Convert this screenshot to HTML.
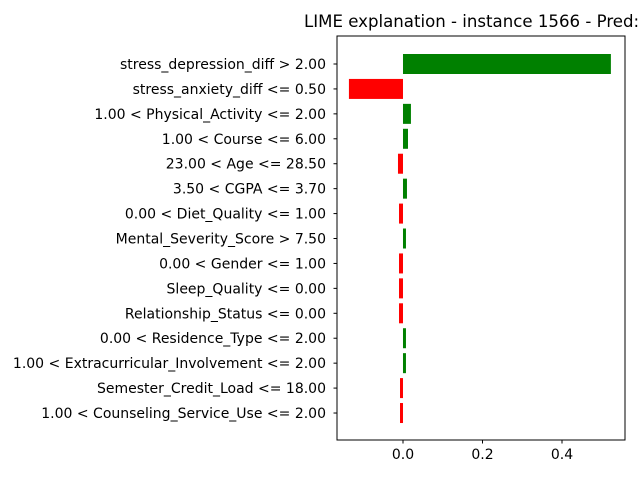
<!DOCTYPE html>
<html><head><meta charset="utf-8"><style>body{margin:0;background:#fff}svg{display:block;font-family:"DejaVu Sans","Liberation Sans",sans-serif}</style></head>
<body>
<svg id="chart" width="640" height="480">
<text x="304" y="27" font-size="16.6" fill="#000">LIME explanation - instance 1566 - Pred: 1</text>
<g id="bars"></g>
<rect x="337" y="36" width="288" height="404" fill="none" stroke="#000" stroke-width="1"/>
<g id="ticks"></g>
</svg>
<script>
const features = ["stress_depression_diff > 2.00","stress_anxiety_diff <= 0.50","1.00 < Physical_Activity <= 2.00","1.00 < Course <= 6.00","23.00 < Age <= 28.50","3.50 < CGPA <= 3.70","0.00 < Diet_Quality <= 1.00","Mental_Severity_Score > 7.50","0.00 < Gender <= 1.00","Sleep_Quality <= 0.00","Relationship_Status <= 0.00","0.00 < Residence_Type <= 2.00","1.00 < Extracurricular_Involvement <= 2.00","Semester_Credit_Load <= 18.00","1.00 < Counseling_Service_Use <= 2.00"];
const weights = [0.523,-0.136,0.020,0.0126,-0.0126,0.010,-0.010,0.0075,-0.010,-0.010,-0.010,0.0075,0.0075,-0.0075,-0.0075];
const xTicks = [0.0,0.2,0.4];
const xTickLabels = ["0.0","0.2","0.4"];
const NS="http://www.w3.org/2000/svg";
const xMin=-0.166,xMax=0.5585,L=337,R=625;
const x=v=>L+(v-xMin)/(xMax-xMin)*(R-L);
const y=i=>64+i*24.93;
const bars=document.getElementById('bars'),ticks=document.getElementById('ticks');
function mk(t,a,p){const e=document.createElementNS(NS,t);for(const k in a)e.setAttribute(k,a[k]);p.appendChild(e);return e;}
weights.forEach((w,i)=>{
  const r=mk('rect',{x:Math.min(x(0),x(w)),y:y(i)-10,width:Math.abs(x(w)-x(0)),height:20,fill:w>0?'green':'red'},bars);
  
  
  const tk=mk('line',{x1:337,x2:333.5,y1:y(i),y2:y(i),stroke:'#000'},ticks);
  
  
  const t=mk('text',{x:326,y:y(i)+5,'font-size':'14','text-anchor':'end'},ticks);
  t.textContent=features[i];
  
  
});
xTicks.forEach((v,i)=>{
  const tk=mk('line',{x1:x(v),x2:x(v),y1:440,y2:443.5,stroke:'#000'},ticks);
  
  
  const t=mk('text',{x:x(v),y:459,'font-size':'14','text-anchor':'middle'},ticks);
  t.textContent=xTickLabels[i];
  
  
});
</script>
</body></html>
